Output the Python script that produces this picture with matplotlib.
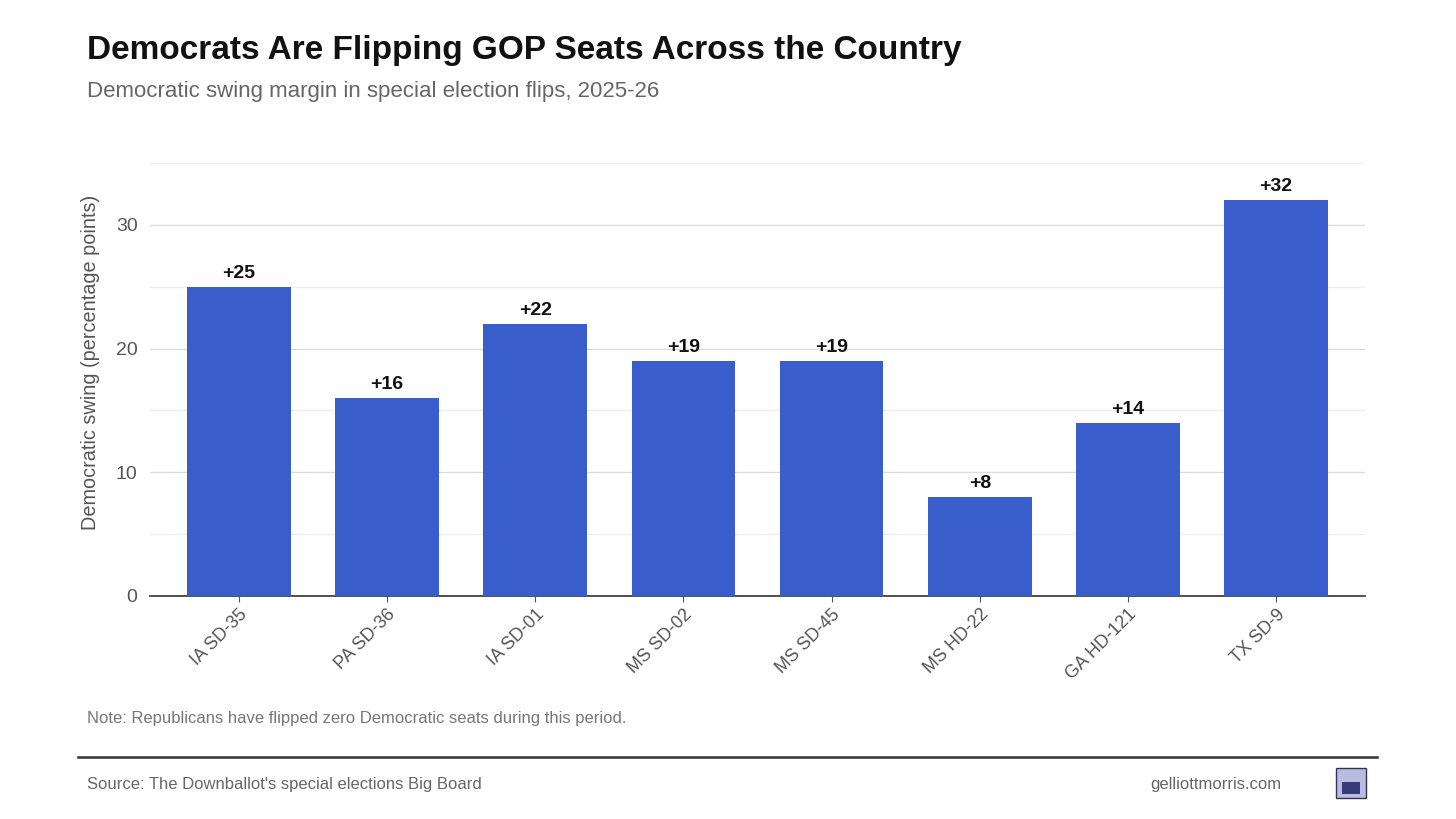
import matplotlib
matplotlib.use("Agg")
import matplotlib.pyplot as plt
from matplotlib.patches import Rectangle
from matplotlib.lines import Line2D

districts = ["IA SD-35", "PA SD-36", "IA SD-01", "MS SD-02", "MS SD-45", "MS HD-22", "GA HD-121", "TX SD-9"]
swing = [25, 16, 22, 19, 19, 8, 14, 32]
yticks = [0, 10, 20, 30]
minor_ticks = [5, 15, 25, 35]

plt.rcParams['font.family'] = ['Liberation Sans', 'DejaVu Sans']

fig = plt.figure(figsize=(14.56, 8.19), dpi=100)
ax = fig.add_axes([150/1456, 1-596/819, (1365-150)/1456, (596-163)/819])

x = list(range(len(districts)))
bars = ax.bar(x, swing, width=0.7, color="#3A5DCC", zorder=3)
for xi, v in zip(x, swing):
    ax.text(xi, v + 0.4, f"+{v}", ha="center", va="bottom", fontsize=14, fontweight="bold", color="#111111", zorder=4)

ax.set_xlim(-0.6, 7.6)
ax.set_ylim(0, 35)
ax.set_yticks(yticks)
ax.set_yticks(minor_ticks, minor=True)
ax.grid(axis="y", which="major", color="#DCDCDC", linewidth=1, zorder=0)
ax.grid(axis="y", which="minor", color="#EFEFEF", linewidth=1, zorder=0)
ax.tick_params(axis="y", which="both", length=0, labelsize=14, labelcolor="#555555", pad=9)
ax.tick_params(axis="x", length=4, color="#555555", labelsize=13, labelcolor="#555555", pad=3)
ax.set_xticks(x)
ax.set_xticklabels(districts, rotation=45, ha="right", rotation_mode="anchor")
for s in ["top", "right", "left"]:
    ax.spines[s].set_visible(False)
ax.spines["bottom"].set_color("#444444")
ax.spines["bottom"].set_linewidth(1.3)
ax.set_ylabel("Democratic swing (percentage points)", fontsize=14.3, color="#555555")
ax.yaxis.set_label_coords(-50/1215, 0.54)

fig.text(87/1456, 1-50/819, "Democrats Are Flipping GOP Seats Across the Country", fontsize=24, fontweight="bold", color="#111111", va="center", ha="left")
fig.text(87/1456, 1-92/819, "Democratic swing margin in special election flips, 2025-26", fontsize=16, color="#666666", va="center", ha="left")
fig.text(87/1456, 1-719/819, "Note: Republicans have flipped zero Democratic seats during this period.", fontsize=12, color="#777777", va="center", ha="left")
fig.add_artist(Line2D([78/1456, 1377/1456], [1-757/819, 1-757/819], color="#333333", linewidth=1.8, transform=fig.transFigure))
fig.text(87/1456, 1-784/819, "Source: The Downballot's special elections Big Board", fontsize=12, color="#666666", va="center", ha="left")
fig.text(1281/1456, 1-784/819, "gelliottmorris.com", fontsize=12, color="#666666", va="center", ha="right")
fig.add_artist(Rectangle((1336/1456, 1-798/819), 30/1456, 30/819, transform=fig.transFigure, facecolor="#B8BCE0", edgecolor="#333355", linewidth=1))
fig.add_artist(Rectangle((1342/1456, 1-794/819), 18/1456, 12/819, transform=fig.transFigure, facecolor="#3A3A7A", edgecolor="none"))

fig.savefig("out.png", dpi=100, facecolor="white")
